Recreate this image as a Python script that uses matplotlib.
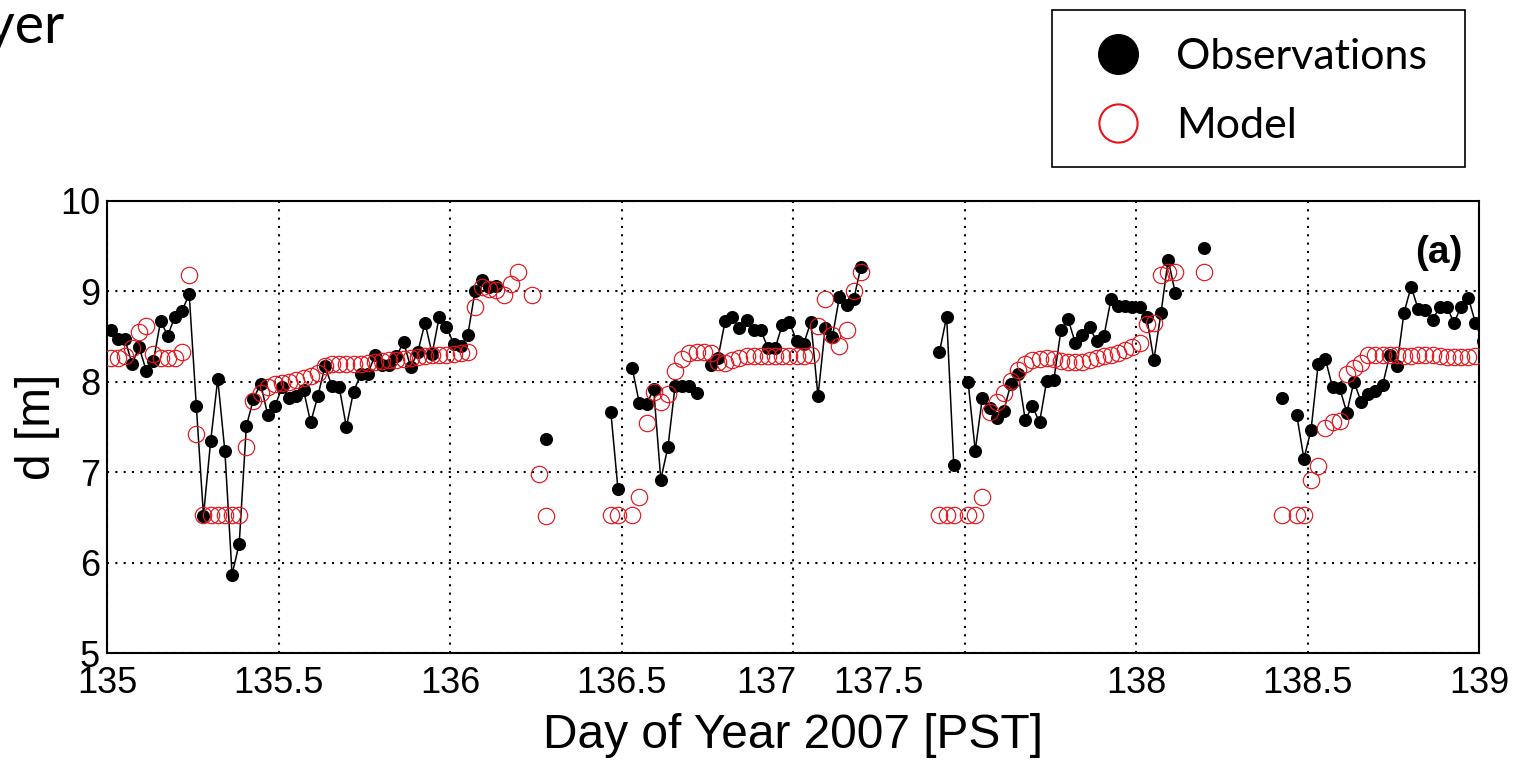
import numpy as np
import matplotlib
matplotlib.use("Agg")
import matplotlib.pyplot as plt
from matplotlib.lines import Line2D
from matplotlib.patches import Rectangle

nan = np.nan

# Half-hourly bins, day-of-year 2007 (PST), values plotted at bin centres
day = 135 + (np.arange(193) + 0.5) / 48

# Observed mixed-layer depth d [m] (nan = no data)
obs_d = [
    8.57, 8.47, 8.47, 8.20, 8.38, 8.12, 8.23, 8.67, 8.51, 8.72, 8.78, 8.97,
    7.73, 6.52, 7.34, 8.03, 7.23, 5.87, 6.21, 7.51, 7.81, 7.98, 7.63, 7.73,
    7.94, 7.82, 7.84, 7.91, 7.55, 7.84, 8.17, 7.95, 7.94, 7.50, 7.89, 8.08,
    8.09, 8.29, 8.18, 8.18, 8.28, 8.44, 8.16, 8.33, 8.65, 8.31, 8.72, 8.61,
    8.42, 8.39, 8.52, 9.00, 9.12, 9.05, 9.06,
    nan, nan, nan, nan, nan, nan,
    7.37,
    nan, nan, nan, nan, nan, nan, nan, nan,
    7.67, 6.82, nan,
    8.15, 7.76, 7.75, 7.92, 6.92, 7.28, 7.95, 7.95, 7.95, 7.88, nan,
    8.18, 8.26, 8.67, 8.71, 8.59, 8.68, 8.57, 8.57, 8.37, 8.37, 8.63, 8.66,
    8.45, 8.42, 8.66, 7.84, 8.59, 8.49, 8.94, 8.85, 8.91, 9.27,
    nan, nan, nan, nan, nan, nan, nan, nan, nan, nan,
    8.33, 8.72, 7.08,
    nan,
    8.00, 7.24, 7.82, 7.71, 7.60, 7.68, 7.98, 8.09, 7.58, 7.73, 7.55, 8.01,
    8.02, 8.57, 8.69, 8.43, 8.52, 8.60, 8.45, 8.50, 8.91, 8.84, 8.84, 8.83,
    8.83, 8.71, 8.24, 8.76, 9.35, 8.98,
    nan, nan, nan,
    9.48,
    nan, nan, nan, nan, nan, nan, nan, nan, nan, nan,
    7.82, nan,
    7.63, 7.15, 7.47, 8.20, 8.25, 7.94, 7.93, 7.66, 8.00, 7.78, 7.87, 7.90,
    7.96, 8.29, 8.17, 8.76, 9.05, 8.80, 8.79, 8.68, 8.83, 8.83, 8.65, 8.83,
    8.93, 8.65, 8.45,
]

# Modelled depth d [m]
model_d = [
    8.26, 8.26, 8.28, 8.37, 8.55, 8.62, 8.31, 8.26, 8.26, 8.26, 8.33, 9.18,
    7.42, 6.53, 6.53, 6.53, 6.53, 6.53, 6.53, 7.28, 7.79, 7.88, 7.94, 7.97,
    7.99, 8.00, 8.02, 8.04, 8.06, 8.10, 8.17, 8.20, 8.20, 8.20, 8.20, 8.20,
    8.21, 8.22, 8.23, 8.24, 8.24, 8.25, 8.26, 8.27, 8.28, 8.29, 8.29, 8.30,
    8.31, 8.32, 8.33, 8.83, 9.05, 9.03, 9.01, 8.96, 9.08, 9.21, nan, 8.96,
    6.98, 6.52,
    nan, nan, nan, nan, nan, nan, nan, nan,
    6.53, 6.53, nan,
    6.53, 6.73, 7.54, 7.89, 7.78, 7.87, 8.12, 8.25, 8.32, 8.33, 8.33,
    8.32, 8.22, 8.21, 8.24, 8.26, 8.28, 8.28, 8.28, 8.28, 8.28, 8.28, 8.28,
    8.28, 8.28, 8.29, 8.62, 8.91, 8.52, 8.39, 8.57, 9.00, 9.21,
    nan, nan, nan, nan, nan, nan, nan, nan, nan, nan,
    6.53, 6.53, 6.53, nan,
    6.53, 6.53, 6.73, 7.67, 7.78, 7.88, 8.01, 8.13, 8.20, 8.24, 8.25, 8.26,
    8.25, 8.23, 8.22, 8.22, 8.22, 8.24, 8.26, 8.28, 8.29, 8.32, 8.35, 8.38,
    8.43, 8.64, 8.65, 9.18, 9.21, 9.21,
    nan, nan, nan,
    9.21,
    nan, nan, nan, nan, nan, nan, nan, nan, nan, nan,
    6.53, nan,
    6.53, 6.53, 6.92, 7.07, 7.49, 7.55, 7.57, 8.09, 8.15, 8.21, 8.30, 8.30,
    8.29, 8.30, 8.29, 8.28, 8.28, 8.29, 8.29, 8.30, 8.28, 8.27, 8.27, 8.27,
    8.27, 8.28, nan,
]

grid_days = [135, 135.5, 136, 136.5, 137, 137.5, 138, 138.5, 139]
grid_labels = ["135", "135.5", "136", "136.5", "", "", "138", "138.5", "139"]
shifted_labels = ["137", "137.5"]
y_ticks = [5, 6, 7, 8, 9, 10]

plt.rcParams["font.family"] = ["Liberation Sans", "DejaVu Sans"]

fig = plt.figure(figsize=(15.14, 7.62), dpi=100)
ax = fig.add_axes([107 / 1514, 1 - 653.3 / 762, 1372 / 1514, 452.6 / 762])

ax.plot(day, obs_d, color="black", lw=1.1, marker="o", ms=8.4,
        mfc="black", mec="black", zorder=3)
ax.plot(day, model_d, ls="none", marker="o", ms=11.8, mfc="none",
        mec="#e8141a", mew=0.85, zorder=4)

ax.set_xlim(135, 139)
ax.set_ylim(5, 10)
ax.set_xticks(grid_days, labels=grid_labels)
ax.set_xticks([136.923, 137.25], labels=shifted_labels, minor=True)
ax.set_yticks(y_ticks)
ax.tick_params(axis="both", which="both", length=0, labelsize=26)
ax.tick_params(axis="x", which="both", pad=9)
ax.tick_params(axis="y", pad=5)
ax.grid(True, which="major", color="black", lw=1.5, ls=(0, (1, 3)))
for sp in ax.spines.values():
    sp.set_linewidth(1.5)

ax.set_xlabel("Day of Year 2007 [PST]", fontsize=34.5, labelpad=9)
ax.set_ylabel("d [m]", fontsize=34.5, labelpad=0)

ax.text(0.988, 0.885, "(a)", transform=ax.transAxes, ha="right", va="center",
        fontsize=28, fontweight="bold")

# Legend drawn in figure space above the axes
fig.patches.append(Rectangle((1052 / 1514, 1 - 167 / 762), 413 / 1514, 157 / 762,
                             transform=fig.transFigure, fill=True, fc="white",
                             ec="black", lw=1.2, zorder=1))
handles = [
    Line2D([], [], ls="none", marker="o", ms=28.5, mfc="black", mec="black"),
    Line2D([], [], ls="none", marker="o", ms=27.5, mfc="none", mec="#e8141a", mew=1.5),
]
fig.legend(handles, ["Observations", "Model"], loc="upper left",
           bbox_to_anchor=(1073 / 1514, 1 - 38 / 762), frameon=False,
           prop={"family": ["Lato", "DejaVu Sans"], "size": 31},
           borderpad=0, borderaxespad=0, handlelength=2.1,
           handletextpad=0.3, labelspacing=0.72)

fig.text(65 / 1514, 1 - 43 / 762, "Layer", ha="right", va="baseline",
         fontsize=40, family=["Lato", "DejaVu Sans"])

fig.savefig("out.png", dpi=100)
